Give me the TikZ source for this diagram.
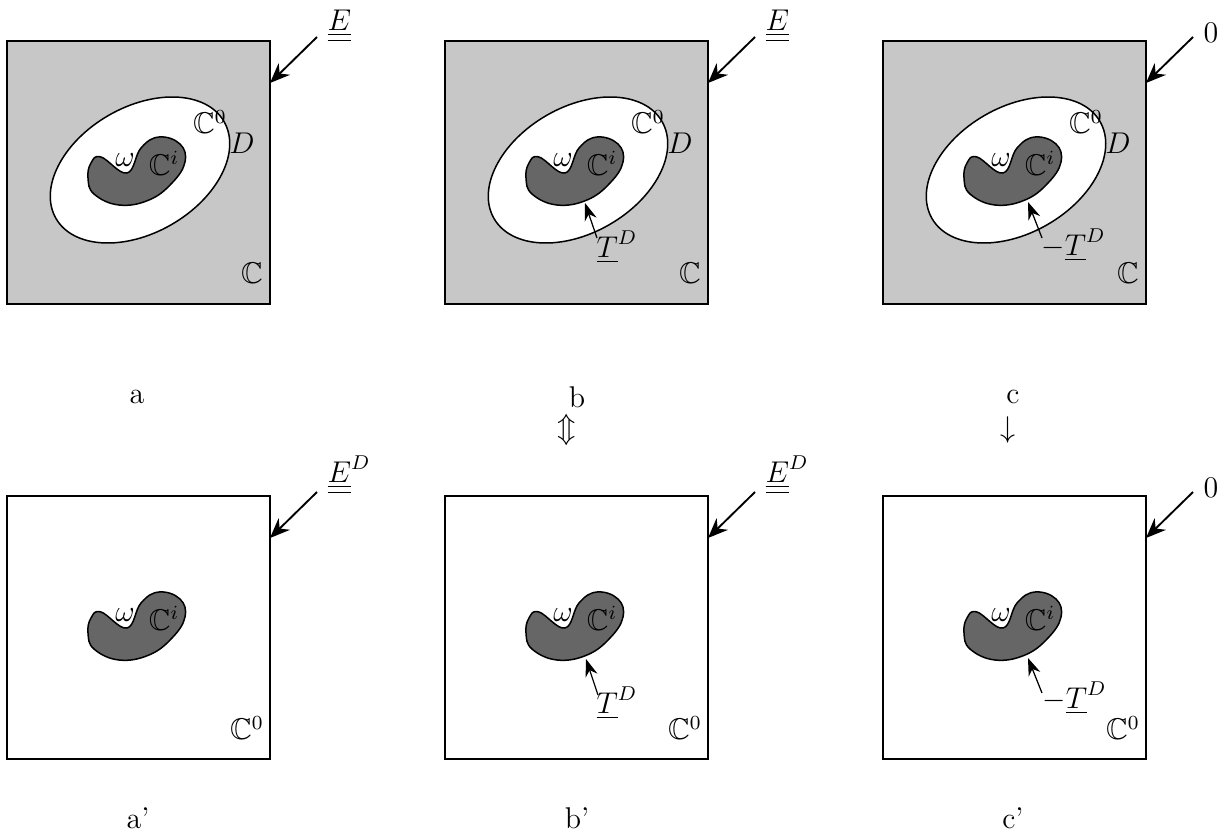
\documentclass[tikz,border=0pt]{standalone}
\usepackage{amsmath,amssymb}
\usetikzlibrary{arrows.meta}
\tikzset{
  box/.style={
    draw,
    line width=0.8pt
  },
  outer/.style={
    box,
    fill=black!22
  },
  region/.style={
    draw,
    line width=0.6pt,
    fill=white
  },
  hole/.style={
    draw,
    line width=0.6pt,
    fill=black!60
  },
  load/.style={
    -{Stealth[length=8pt,width=6.5pt]},
    line width=0.75pt
  },
  trac/.style={
    -{Stealth[length=7pt,width=5pt]},
    line width=0.5pt
  },
  lbl/.style={
    inner sep=0pt
  },
  inclusion/.pic={
    \draw[hole] plot[smooth cycle, tension=0.7] coordinates {(81,126) (87,110) (112,99) (142,104) (165,121) (178,142) (173,160) (152,167) (134,156) (120,131) (94,147) (84,141)};
    \node (-om) at (118,144) {$\omega$};
    \node (-ci) at (157,141) {$\mathbb{C}^i$};
  }
}

\begin{document}
\begin{tikzpicture}[x=0.4pt, y=0.4pt, font=\large]
  \useasboundingbox (0,0) rectangle (1220,836);

  % top row
  \begin{scope}[shift={(7,532)}]
    \draw[outer] (0,0) rectangle (263,263);
    \draw[region] (133,134) ellipse [x radius=97, y radius=63, rotate=30];
    \pic (aI) at (0,0) {inclusion};
    \node (aC0) at (203,182) {$\mathbb{C}^0$};
    \node (aD) at (235,161) {$D$};
    \node (aC) at (245,31) {$\mathbb{C}$};
    \coordinate (aHit) at (263,221);
    \coordinate (aTail) at (310,267);
    \node[lbl, anchor=base west] (aE) at (320,274) {$\underline{\underline{E}}$};
    \draw[load] (aTail) -- (aHit);
  \end{scope}

  \begin{scope}[shift={(445,532)}]
    \draw[outer] (0,0) rectangle (263,263);
    \draw[region] (133,134) ellipse [x radius=97, y radius=63, rotate=30];
    \pic (bI) at (0,0) {inclusion};
    \node (bC0) at (203,182) {$\mathbb{C}^0$};
    \node (bD) at (235,161) {$D$};
    \node (bC) at (245,31) {$\mathbb{C}$};
    \coordinate (bHit) at (263,221);
    \coordinate (bTail) at (310,267);
    \node[lbl, anchor=base west] (bE) at (320,274) {$\underline{\underline{E}}$};
    \draw[load] (bTail) -- (bHit);
    \coordinate (bTs) at (152,66);
    \coordinate (bTe) at (140,101);
    \node[lbl, anchor=base west] (bT) at (151,47) {$\underline{T}^D$};
    \draw[trac] (bTs) -- (bTe);
  \end{scope}

  \begin{scope}[shift={(883,532)}]
    \draw[outer] (0,0) rectangle (263,263);
    \draw[region] (133,134) ellipse [x radius=97, y radius=63, rotate=30];
    \pic (cI) at (0,0) {inclusion};
    \node (cC0) at (203,182) {$\mathbb{C}^0$};
    \node (cD) at (235,161) {$D$};
    \node (cC) at (245,31) {$\mathbb{C}$};
    \coordinate (cHit) at (263,221);
    \coordinate (cTail) at (310,267);
    \node[lbl, anchor=base west] (cZ) at (320,262) {$0$};
    \draw[load] (cTail) -- (cHit);
    \coordinate (cTs) at (159,66);
    \coordinate (cTe) at (145,102);
    \node[lbl, anchor=base west] (cT) at (158,49) {$-\underline{T}^D$};
    \draw[trac] (cTs) -- (cTe);
  \end{scope}

  % bottom row
  \begin{scope}[shift={(7,77)}]
    \draw[box] (0,0) rectangle (263,263);
    \pic (dI) at (0,0) {inclusion};
    \node (dC0) at (240,31) {$\mathbb{C}^0$};
    \coordinate (dHit) at (263,221);
    \coordinate (dTail) at (310,267);
    \node[lbl, anchor=base west] (dE) at (320,277) {$\underline{\underline{E}}^D$};
    \draw[load] (dTail) -- (dHit);
  \end{scope}

  \begin{scope}[shift={(445,77)}]
    \draw[box] (0,0) rectangle (263,263);
    \pic (eI) at (0,0) {inclusion};
    \node (eC0) at (240,31) {$\mathbb{C}^0$};
    \coordinate (eHit) at (263,221);
    \coordinate (eTail) at (310,267);
    \node[lbl, anchor=base west] (eE) at (320,277) {$\underline{\underline{E}}^D$};
    \draw[load] (eTail) -- (eHit);
    \coordinate (eTs) at (153,64);
    \coordinate (eTe) at (141,100);
    \node[lbl, anchor=base west] (eT) at (151,46) {$\underline{T}^D$};
    \draw[trac] (eTs) -- (eTe);
  \end{scope}

  \begin{scope}[shift={(883,77)}]
    \draw[box] (0,0) rectangle (263,263);
    \pic (fI) at (0,0) {inclusion};
    \node (fC0) at (240,31) {$\mathbb{C}^0$};
    \coordinate (fHit) at (263,221);
    \coordinate (fTail) at (310,267);
    \node[lbl, anchor=base west] (fZ) at (320,262) {$0$};
    \draw[load] (fTail) -- (fHit);
    \coordinate (fTs) at (159,66);
    \coordinate (fTe) at (145,101);
    \node[lbl, anchor=base west] (fT) at (159,51) {$-\underline{T}^D$};
    \draw[trac] (fTs) -- (fTe);
  \end{scope}

  % captions
  \node (la) at (137,439) {a};
  \node (lb) at (577,439) {b};
  \node (lc) at (1013,439) {c};
  \node (equiv) at (567,406) {$\Updownarrow$};
  \node (imp) at (1008,406) {$\downarrow$};
  \node (lap) at (138,18) {a'};
  \node (lbp) at (577,18) {b'};
  \node (lcp) at (1013,18) {c'};
\end{tikzpicture}
\end{document}
